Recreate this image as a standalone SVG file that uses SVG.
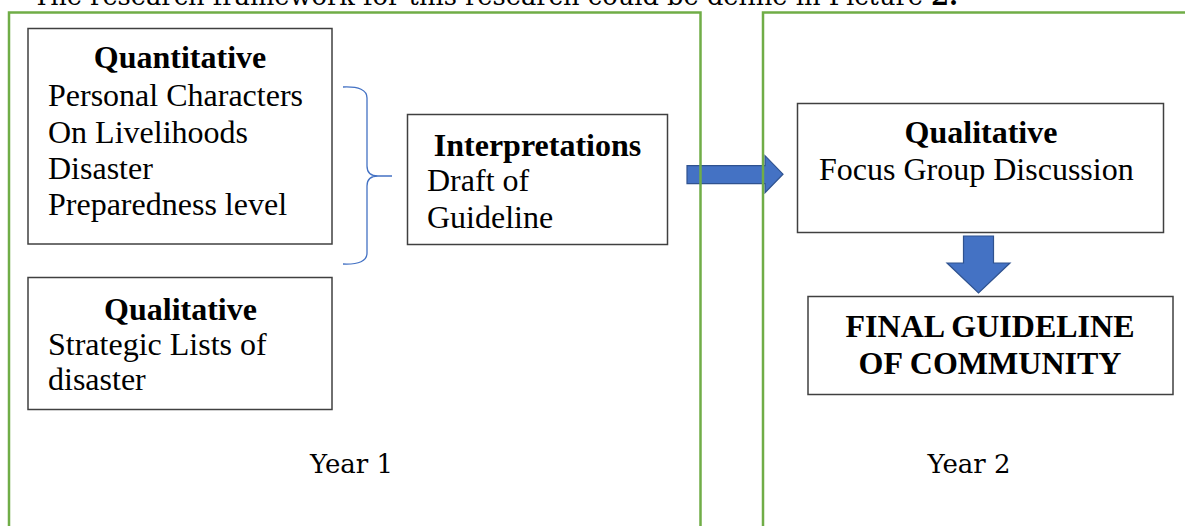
<svg xmlns="http://www.w3.org/2000/svg" width="1185" height="526" viewBox="0 0 1185 526">
<defs>
<style>
.box{fill:#fff;stroke:#404040;stroke-width:1.5}
.t{font-family:"Liberation Serif","Times New Roman",serif;font-size:32px;fill:#000}
.b{font-weight:bold}
.yr{font-family:"DejaVu Serif",serif;font-size:26px;fill:#000}
.frame{fill:none;stroke:#70AD47;stroke-width:2.5}
.blk{fill:#4472C4;stroke:#2F528F;stroke-width:1.2}
.brace{fill:none;stroke:#4472C4;stroke-width:1.3}
</style>
</defs>
<rect width="1185" height="526" fill="#fff"/>
<text class="yr" x="33" y="4.5" textLength="890" lengthAdjust="spacingAndGlyphs">The research framework for this research could be define in Picture</text>
<text class="yr b" x="931" y="4.5">2.</text>
<g id="connectors">
<path class="brace" d="M343,87 Q367,86 367,98 L367,166 Q367,176 378,176 L392,176 M378,176 Q367,176 367,186 L367,253 Q367,265 343,264"/>
<path id="arrow-right" class="blk" d="M687,165.7 L765,165.7 L765,155.7 L783,174.2 L765,192.7 L765,183.7 L687,183.7 Z"/>
<path id="arrow-down" class="blk" d="M963.5,236 L993.5,236 L993.5,263 L1010,263 L978.5,293 L947,263 L963.5,263 Z"/>
</g>
<g id="frame-year1">
<path class="frame" d="M9,540 L9,12.5 L700.5,12.5 L700.5,540"/>
<text class="yr" x="351.5" y="473" text-anchor="middle">Year 1</text>
</g>
<g id="frame-year2">
<path class="frame" d="M763,540 L763,12.5 L1195,12.5"/>
<text class="yr" x="969" y="473" text-anchor="middle">Year 2</text>
</g>
<g id="quantitative">
<rect class="box" x="28" y="28.5" width="304" height="215.5"/>
<text class="t b" x="180" y="68" text-anchor="middle">Quantitative</text>
<text class="t" x="48" y="106">Personal Characters</text>
<text class="t" x="48" y="143">On Livelihoods</text>
<text class="t" x="48" y="179">Disaster</text>
<text class="t" x="48" y="215">Preparedness level</text>
</g>
<g id="qualitative-left">
<rect class="box" x="28" y="277.5" width="304" height="132"/>
<text class="t b" x="180.5" y="320" text-anchor="middle">Qualitative</text>
<text class="t" x="48" y="355">Strategic Lists of</text>
<text class="t" x="48" y="390">disaster</text>
</g>
<g id="interpretations">
<rect class="box" x="407.5" y="114.5" width="260" height="130"/>
<text class="t b" x="537.5" y="156" text-anchor="middle">Interpretations</text>
<text class="t" x="427" y="191">Draft of</text>
<text class="t" x="427" y="228">Guideline</text>
</g>
<g id="qualitative-right">
<rect class="box" x="797.5" y="103.5" width="366" height="129"/>
<text class="t b" x="981" y="143" text-anchor="middle">Qualitative</text>
<text class="t" x="819" y="180">Focus Group Discussion</text>
</g>
<g id="final-guideline">
<rect class="box" x="808" y="296.5" width="365" height="98"/>
<text class="t b" x="990" y="337" text-anchor="middle">FINAL GUIDELINE</text>
<text class="t b" x="990" y="374" text-anchor="middle">OF COMMUNITY</text>
</g>
</svg>
